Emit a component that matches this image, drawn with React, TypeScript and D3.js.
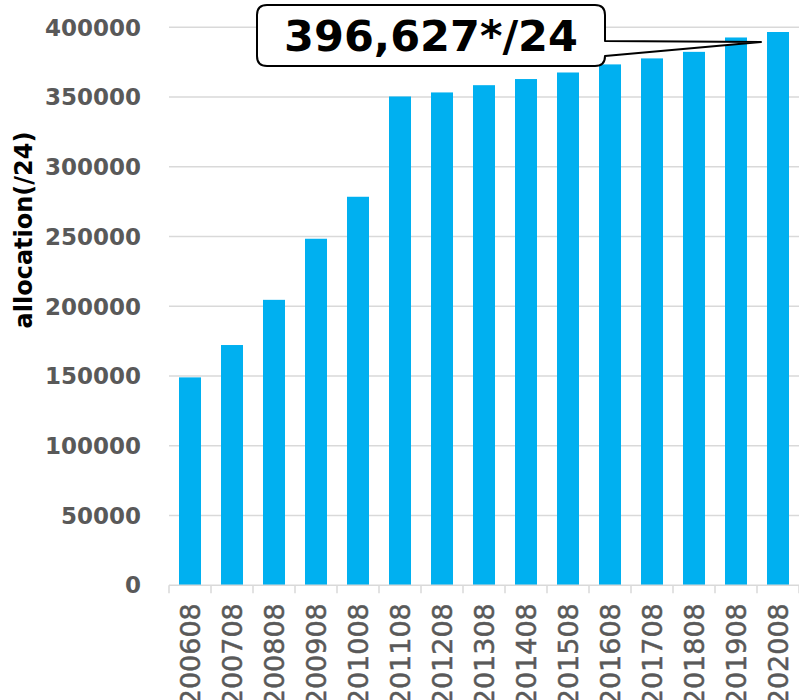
import React from "react";
import { scaleBand, scaleLinear } from "d3";

// fiscal snapshots (yyyymm) and allocation values divided by 24
const periods = [
  "200608", "200708", "200808", "200908", "201008",
  "201108", "201208", "201308", "201408", "201508",
  "201608", "201708", "201808", "201908", "202008",
];
const allocation = [
  149000, 172200, 204600, 248400, 278500,
  350400, 353300, 358500, 362900, 367600,
  373400, 377700, 382400, 392700, 396627,
];
const yTicks = [0, 50000, 100000, 150000, 200000, 250000, 300000, 350000, 400000];
const calloutText = "396,627*/24";
const yTitle = "allocation(/24)";

const W = 799;
const H = 700;
const plot = { left: 169, right: 799, top: 27.3, bottom: 585.2 };

const font = "'DejaVu Sans', Verdana, sans-serif";
const barColor = "#00b0f0";
const gridColor = "#d9d9d9";
const labelColor = "#595959";

export default function App() {
  const x = scaleBand<string>()
    .domain(periods)
    .range([plot.left, plot.right])
    .paddingInner(0.476)
    .paddingOuter(0.238);

  const y = scaleLinear().domain([0, 400000]).range([plot.bottom, plot.top]);

  const step = x.step();
  const bounds = periods.map((_, i) => plot.left + i * step).concat(plot.right);

  // callout: rounded box with a wedge pointing at the last bar
  const last = periods.length - 1;
  const tipX = (x(periods[last]) as number) + x.bandwidth() / 2 - 17;
  const tipY = y(allocation[last]) + 10;
  const bx0 = 257, by0 = 5, bx1 = 605, by1 = 66, r = 10;
  const w0 = 41, w1 = 56;
  const callout = [
    `M${bx0 + r},${by0}`,
    `L${bx1 - r},${by0}`,
    `Q${bx1},${by0} ${bx1},${by0 + r}`,
    `L${bx1},${w0}`,
    `L${tipX},${tipY}`,
    `L${bx1},${w1}`,
    `L${bx1},${by1 - r}`,
    `Q${bx1},${by1} ${bx1 - r},${by1}`,
    `L${bx0 + r},${by1}`,
    `Q${bx0},${by1} ${bx0},${by1 - r}`,
    `L${bx0},${by0 + r}`,
    `Q${bx0},${by0} ${bx0 + r},${by0}`,
    "Z",
  ].join(" ");

  return (
    <svg
      width={W}
      height={H}
      style={{ position: "absolute", left: 0, top: 0, display: "block", background: "#fff" }}
      fontFamily={font}
    >
      {/* gridlines */}
      {yTicks.slice(1).map((t) => (
        <line
          key={t}
          x1={plot.left}
          x2={plot.right}
          y1={y(t)}
          y2={y(t)}
          stroke={gridColor}
          strokeWidth={1.5}
        />
      ))}

      {/* bars */}
      {periods.map((p, i) => (
        <rect
          key={p}
          x={x(p)}
          y={y(allocation[i])}
          width={x.bandwidth()}
          height={plot.bottom - y(allocation[i])}
          fill={barColor}
        />
      ))}

      {/* x axis */}
      <line x1={plot.left} x2={plot.right} y1={plot.bottom} y2={plot.bottom} stroke={gridColor} strokeWidth={1.5} />
      {bounds.map((bx, i) => (
        <line key={i} x1={bx} x2={bx} y1={plot.bottom} y2={plot.bottom + 8} stroke={gridColor} strokeWidth={1.5} />
      ))}
      {periods.map((p) => {
        const cx = (x(p) as number) + x.bandwidth() / 2;
        return (
          <text
            key={p}
            transform={`translate(${cx},${plot.bottom + 18}) rotate(-90)`}
            textAnchor="end"
            dy="0.36em"
            fontSize={27}
            fill={labelColor}
            stroke={labelColor}
            strokeWidth={0.5}
          >
            {p}
          </text>
        );
      })}

      {/* y tick labels */}
      {yTicks.map((t) => (
        <text
          key={t}
          x={141}
          y={y(t)}
          dy="0.36em"
          textAnchor="end"
          fontSize={23}
          fontWeight="bold"
          fill={labelColor}
        >
          {t}
        </text>
      ))}

      {/* y title */}
      <text
        transform={`translate(23,230) rotate(-90)`}
        textAnchor="middle"
        dy="0.36em"
        fontSize={24}
        fontWeight="bold"
        fill="#000"
      >
        {yTitle}
      </text>

      {/* callout */}
      <path d={callout} fill="#fff" stroke="#000" strokeWidth={2} strokeLinejoin="round" />
      <text
        x={(bx0 + bx1) / 2}
        y={(by0 + by1) / 2}
        dy="0.36em"
        textAnchor="middle"
        fontSize={43}
        fontWeight="bold"
        fill="#000"
      >
        {calloutText}
      </text>
    </svg>
  );
}
